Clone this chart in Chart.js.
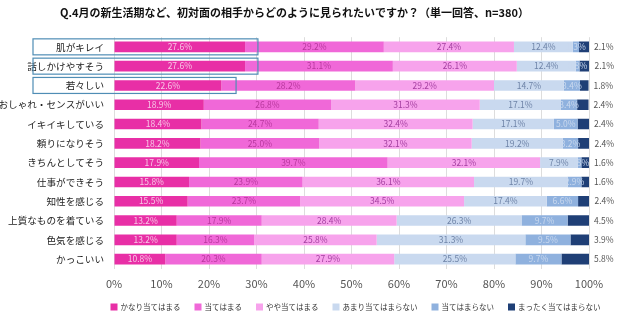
<!DOCTYPE html>
<html>
<head>
<meta charset="utf-8">
<script src="https://cdn.jsdelivr.net/npm/chart.js@4/dist/chart.umd.min.js"></script>
<style>
  html, body { margin: 0; padding: 0; background: #fff; }
  #wrap { width: 640px; height: 323px; }
</style>
</head>
<body>
<div id="wrap"><canvas id="myChart" width="640" height="323"></canvas></div>
<script>
const titleText = 'Q.4月の新生活期など、初対面の相手からどのように見られたいですか？（単一回答、n=380）'
const categories = ['肌がキレイ', '話しかけやすそう', '若々しい', 'おしゃれ・センスがいい', 'イキイキしている', '頼りになりそう',
  'きちんとしてそう', '仕事ができそう', '知性を感じる', '上質なものを着ている', '色気を感じる', 'かっこいい']
const seriesNames = ['かなり当てはまる', '当てはまる', 'やや当てはまる', 'あまり当てはまらない', '当てはまらない', 'まったく当てはまらない']

const kanari   = [27.6, 27.6, 22.6, 18.9, 18.4, 18.2, 17.9, 15.8, 15.5, 13.2, 13.2, 10.8]
const atehamaru = [29.2, 31.1, 28.2, 26.8, 24.7, 25.0, 39.7, 23.9, 23.7, 17.9, 16.3, 20.3]
const yaya     = [27.4, 26.1, 29.2, 31.3, 32.4, 32.1, 32.1, 36.1, 34.5, 28.4, 25.8, 27.9]
const amari    = [12.4, 12.4, 14.7, 17.1, 17.1, 19.2, 7.9, 19.7, 17.4, 26.3, 31.3, 25.5]
const not_     = [1.3, 0.8, 3.4, 3.4, 5.0, 3.2, 0.8, 2.9, 6.6, 9.7, 9.5, 9.7]
const mattaku  = [2.1, 2.1, 1.8, 2.4, 2.4, 2.4, 1.6, 1.6, 2.4, 4.5, 3.9, 5.8]
const xTicks = [0, 10, 20, 30, 40, 50, 60, 70, 80, 90, 100]

// highlighted rows (blue frames) and where the frame ends on the x axis
const boxRows = [0, 1, 2]
const boxEnds = [30.3, 30.3, 25.7]

const colors = ['#E82FA6', '#F068D8', '#F7A3EC', '#C9D9EF', '#8FB1DE', '#1F3F76']
const labelColors = ['#F7C6E6', '#B8389E', '#A43FA0', '#6F84A8', '#C9D8EE', '#555555']
const allValues = [kanari, atehamaru, yaya, amari, not_, mattaku]

const jpFont = '"Noto Sans CJK JP", "Noto Sans", sans-serif'

const valueLabels = {
  id: 'valueLabels',
  afterDatasetsDraw(chart) {
    const ctx = chart.ctx
    ctx.save()
    ctx.font = '8.5px ' + jpFont
    ctx.textBaseline = 'middle'
    chart.data.datasets.forEach((ds, di) => {
      const meta = chart.getDatasetMeta(di)
      meta.data.forEach((bar, i) => {
        const txt = ds.data[i].toFixed(1) + '%'
        ctx.fillStyle = labelColors[di]
        if (di === 5) {
          ctx.textAlign = 'left'
          ctx.fillText(txt, bar.x + 5, bar.y)
        } else {
          ctx.textAlign = 'center'
          ctx.fillText(txt, (bar.x + bar.base) / 2, bar.y)
        }
      })
    })
    ctx.restore()
  }
}

const frames = {
  id: 'frames',
  afterDraw(chart) {
    const ctx = chart.ctx
    const x = chart.scales.x, y = chart.scales.y
    ctx.save()
    ctx.strokeStyle = '#4F8DB5'
    ctx.lineWidth = 1.2
    boxRows.forEach((r, k) => {
      const cy = y.getPixelForValue(r)
      const right = x.getPixelForValue(boxEnds[k])
      ctx.strokeRect(33, cy - 8, right - 33, 16)
    })
    ctx.restore()
  }
}

// legend drawn by hand so it can sit a little right of centre like the original
const bottomLegend = {
  id: 'bottomLegend',
  afterDraw(chart) {
    const ctx = chart.ctx
    ctx.save()
    ctx.font = '7.5px ' + jpFont
    ctx.textBaseline = 'middle'
    const box = 7, gap = 3, space = 14
    const widths = seriesNames.map(n => box + gap + ctx.measureText(n).width)
    const total = widths.reduce((a, b) => a + b, 0) + space * (widths.length - 1)
    const area = chart.chartArea
    let x = (area.left + area.right) / 2 + 4 - total / 2
    const y = chart.height - 16
    seriesNames.forEach((n, i) => {
      ctx.fillStyle = colors[i]
      ctx.fillRect(x, y - box / 2, box, box)
      ctx.fillStyle = '#333'
      ctx.textAlign = 'left'
      ctx.fillText(n, x + box + gap, y)
      x += widths[i] + space
    })
    ctx.restore()
  }
}

const config = {
  type: 'bar',
  data: {
    labels: categories,
    datasets: seriesNames.map((name, i) => ({
      label: name,
      data: allValues[i],
      backgroundColor: colors[i],
      borderWidth: 0,
      barPercentage: 0.55,
      categoryPercentage: 1.0
    }))
  },
  options: {
    indexAxis: 'y',
    responsive: false,
    animation: false,
    layout: { padding: { left: 0, right: 51, top: 0, bottom: 25 } },
    scales: {
      x: {
        stacked: true,
        min: 0,
        max: 100,
        afterBuildTicks: scale => { scale.ticks = xTicks.map(v => ({ value: v })) },
        ticks: {
          callback: v => v + '%',
          color: '#555',
          font: { family: jpFont, size: 11 },
          padding: 8
        },
        grid: { color: '#DDDDDD', drawTicks: false },
        border: { display: false }
      },
      y: {
        stacked: true,
        afterFit: scale => { scale.width = 114 },
        ticks: {
          autoSkip: false,
          color: '#222',
          font: { family: jpFont, size: 9.6 },
          padding: 10
        },
        grid: { display: false, drawTicks: false },
        border: { display: false }
      }
    },
    plugins: {
      title: {
        display: true,
        text: titleText,
        color: '#111',
        font: { family: jpFont, size: 11, weight: 'bold' },
        padding: { top: 6, bottom: 18 }
      },
      legend: { display: false },
      tooltip: { enabled: false }
    }
  },
  plugins: [valueLabels, frames, bottomLegend]
}

const myChart = new Chart(document.getElementById('myChart'), config)
</script>
</body>
</html>
